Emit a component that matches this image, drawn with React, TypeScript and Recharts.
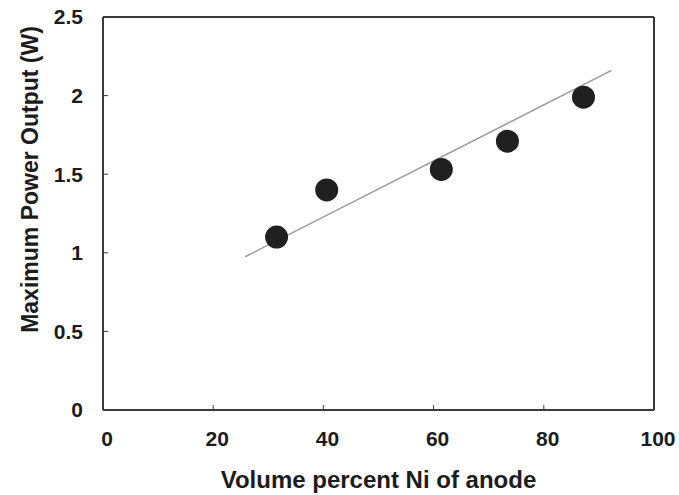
import { ScatterChart, Scatter, XAxis, YAxis, ReferenceLine, Label } from 'recharts'

// measured points: volume % Ni vs max power (W)
const niPercent = [31.5, 40.6, 61.4, 73.4, 87.2]
const powerW = [1.1, 1.4, 1.53, 1.71, 1.99]

// hand-drawn trend line ends
const trendX = [25.8, 92.3]
const trendY = [0.975, 2.16]

const xTicks = [0, 20, 40, 60, 80, 100]
const yTicks = [0, 0.5, 1, 1.5, 2, 2.5]

const points = niPercent.map((x, i) => ({ x, y: powerW[i] }))
const trend = trendX.map((x, i) => ({ x, y: trendY[i] }))

const FONT = '"Liberation Sans", Arial, sans-serif'
const INK = '#1c1c1c'
const FRAME = '#3a3a3a'

const Dot = (props: any) => <circle cx={props.cx} cy={props.cy} r={11.5} fill="#202020" />

const YTitle = (props: any) => {
  const vb = props.viewBox
  const cx = 30
  const cy = vb.y + vb.height / 2 - 34
  return (
    <text
      x={cx}
      y={cy}
      transform={`rotate(-90, ${cx}, ${cy})`}
      textAnchor="middle"
      dominantBaseline="central"
      fontFamily={FONT}
      fontWeight="bold"
      fontSize={23}
      fill={INK}
    >
      Maximum Power Output (W)
    </text>
  )
}

export default function App() {
  return (
    <div style={{ position: 'absolute', left: 0, top: 0, width: 679, height: 495, background: '#fff' }}>
      <ScatterChart width={679} height={495} margin={{ top: 17, right: 25, left: 0, bottom: 0 }}>
        <XAxis
          type="number"
          dataKey="x"
          domain={[0, 100]}
          ticks={xTicks}
          height={85}
          tickSize={-5}
          tickMargin={26}
          axisLine={{ stroke: FRAME, strokeWidth: 2 }}
          tickLine={{ stroke: FRAME }}
          tick={{ fill: INK, fontSize: 21, fontFamily: FONT, fontWeight: 'bold', dx: 4 }}
        >
          <Label
            value="Volume percent Ni of anode"
            position="insideBottom"
            offset={7}
            fill={INK}
            fontSize={24}
            fontFamily={FONT}
            fontWeight="bold"
          />
        </XAxis>
        <YAxis
          type="number"
          dataKey="y"
          domain={[0, 2.5]}
          ticks={yTicks}
          width={103}
          tickSize={-5}
          tickMargin={25}
          axisLine={{ stroke: FRAME, strokeWidth: 2 }}
          tickLine={{ stroke: FRAME }}
          tick={{ fill: INK, fontSize: 21, fontFamily: FONT, fontWeight: 'bold' }}
        >
          <Label content={YTitle} />
        </YAxis>
        <ReferenceLine y={2.5} stroke={FRAME} strokeWidth={2} />
        <ReferenceLine x={100} stroke={FRAME} strokeWidth={2} />
        <ReferenceLine
          segment={trend}
          stroke="#9a9a9a"
          strokeWidth={1.5}
        />
        <Scatter data={points} shape={Dot} isAnimationActive={false} />
      </ScatterChart>
    </div>
  )
}
